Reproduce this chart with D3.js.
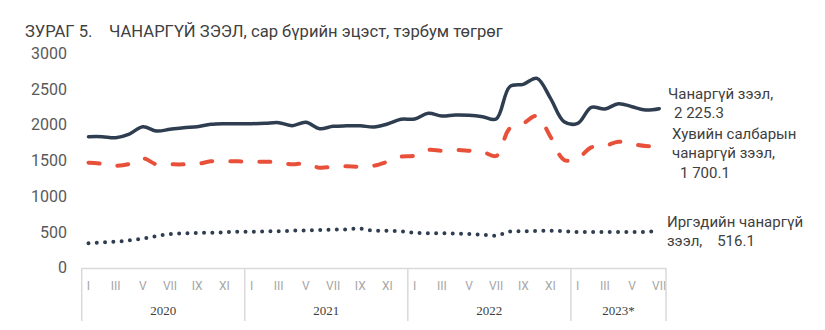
<!DOCTYPE html>
<html><head><meta charset="utf-8">
<script src="https://cdn.jsdelivr.net/npm/d3@7"></script>
<style>body{margin:0;background:#fff}svg{display:block}</style>
</head><body><svg id="c" width="825" height="330"></svg>
<script>
const years = ["2020","2021","2022","2023*"];
const monthsPerYear = [12,12,12,7];
const monthNames = ["I","II","III","IV","V","VI","VII","VIII","IX","X","XI","XII"];
const yTicks = [0,500,1000,1500,2000,2500,3000];
const totalNPL = [1833,1833,1819,1870,1973,1912,1936,1959,1973,2006,2015,2015,
  2015,2020,2029,1987,2034,1945,1978,1985,1987,1968,
  2010,2076,2080,2160,2122,2136,2132,2113,2080,2532,2566,2650,2370,2043,
  2020,2244,2220,2295,2253,2206,2225.3];
const privateNPL = [1469,1455,1427,1451,1530,1446,1446,1446,1451,1488,1488,1488,
  1483,1483,1474,1446,1460,1399,1413,1418,1413,1427,
  1483,1553,1567,1647,1637,1647,1637,1623,1563,1950,2020,2122,1833,1507,
  1530,1684,1703,1763,1731,1703,1700.1];
const householdNPL = [341,355,364,383,406,443,471,481,485,490,495,504,
  504,509,509,518,523,527,532,537,546,518,
  518,509,490,481,481,476,471,462,448,504,509,513,518,509,
  499,499,499,499,499,499,516.1];
const labels = ["Чанаргүй зээл,|2 225.3","Хувийн салбарын|чанаргүй зээл,|1 700.1","Иргэдийн чанаргүй|зээл,    516.1"];

const cats = [];
years.forEach((y,i)=>{for(let m=0;m<monthsPerYear[i];m++) cats.push(y+"-"+m);});
const svg = d3.select("#c");
const x = d3.scaleBand().domain(cats).range([81.7,666]);
const y = d3.scaleLinear().domain([0,3000]).range([267.7,53.3]);
const cx = d => x(d)+x.bandwidth()/2;

// title
const t = svg.append("text").attr("y",37).attr("font-family","Roboto").attr("font-size",16.6).attr("fill","#404040");
t.append("tspan").attr("x",25).text("ЗУРАГ 5.");
t.append("tspan").attr("x",109).text("ЧАНАРГҮЙ ЗЭЭЛ, сар бүрийн эцэст, тэрбум төгрөг");

// y axis
const ya = svg.append("g").attr("transform","translate(67,0)")
  .call(d3.axisLeft(y).tickValues(yTicks).tickSize(0).tickPadding(0).tickFormat(d3.format("d")));
ya.select(".domain").remove();
ya.selectAll("text").attr("font-family","Roboto").attr("font-size",16).attr("fill","#595959");

// x axis box
const gx = svg.append("g");
gx.append("line").attr("x1",x.range()[0]).attr("x2",x.range()[1]).attr("y1",268.5).attr("y2",268.5)
  .attr("stroke","#d9d9d9").attr("stroke-width",1.5);
let start=0; const bounds=[x(cats[0])];
years.forEach((yr,i)=>{
  const end = start+monthsPerYear[i];
  const x0 = x(cats[start]), x1 = x(cats[end-1])+x.bandwidth();
  bounds.push(x1);
  gx.append("text").attr("x",(x0+x1)/2).attr("y",315).attr("text-anchor","middle")
    .attr("font-family","Liberation Serif").attr("font-size",13).attr("fill","#404040").text(yr);
  for(let m=0;m<monthsPerYear[i];m+=2){
    gx.append("text").attr("x",cx(cats[start+m])).attr("y",289.5).attr("text-anchor","middle")
      .attr("font-family","Roboto").attr("font-size",12).attr("fill","#a6a6a6").text(monthNames[m]);
  }
  start=end;
});
bounds.forEach(b=>gx.append("line").attr("x1",b).attr("x2",b).attr("y1",268).attr("y2",321)
  .attr("stroke","#d9d9d9").attr("stroke-width",1.5));

const line = d3.line().x((d,i)=>cx(cats[i])).y(d=>y(d)).curve(d3.curveCatmullRom.alpha(0.5));
svg.append("path").datum(householdNPL).attr("d",line).attr("fill","none").attr("stroke","#2e3d50")
  .attr("stroke-width",4).attr("stroke-linecap","round").attr("stroke-dasharray","0 8.3");
svg.append("path").datum(privateNPL).attr("d",line).attr("fill","none").attr("stroke","#e8503a")
  .attr("stroke-width",4).attr("stroke-linecap","round").attr("stroke-dasharray","11 18");
svg.append("path").datum(totalNPL).attr("d",line).attr("fill","none").attr("stroke","#2e3d50")
  .attr("stroke-width",3.5).attr("stroke-linecap","round");

// labels
const lab = [[668,99,[0,6]],[672,139,[0,0,8]],[667,227,[0,0]]];
labels.forEach((s,i)=>{
  const tx = svg.append("text").attr("font-family","Roboto").attr("font-size",15).attr("fill","#404040")
    .attr("xml:space","preserve");
  s.split("|").forEach((ln,j)=>{
    tx.append("tspan").attr("x",lab[i][0]+lab[i][2][j]).attr("y",lab[i][1]+j*19.3).text(ln);
  });
});
</script></body></html>
